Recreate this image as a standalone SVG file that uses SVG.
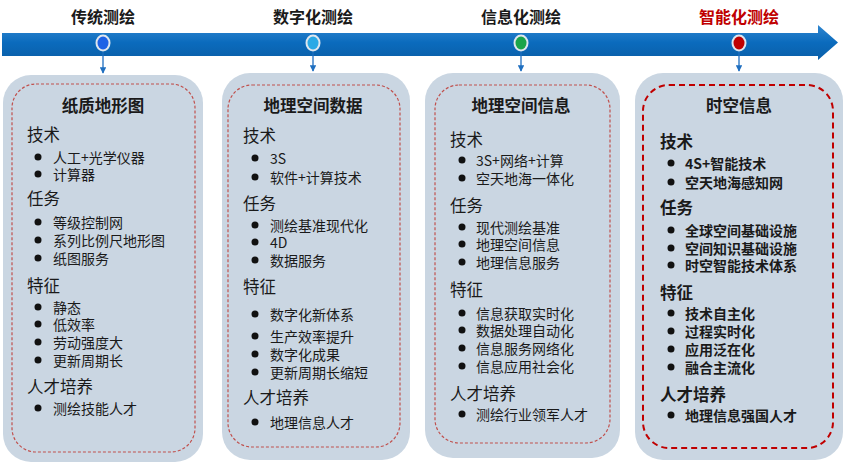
<svg xmlns="http://www.w3.org/2000/svg" width="847" height="467" viewBox="0 0 847 467">
<defs>
<style>
.ttl{font-family:"Noto Sans CJK SC","Noto Sans",sans-serif;font-size:16px;font-weight:700;fill:#1a1a1a;text-anchor:middle;dominant-baseline:central}
.card{fill:#cad6e2}
.dash{fill:none;stroke:#c0504d;stroke-width:1.2;stroke-dasharray:3 2}
.dash4{fill:none;stroke:#c00000;stroke-width:2;stroke-dasharray:6 4}
.hd{font-family:"Noto Sans CJK SC","Noto Sans",sans-serif;font-size:16.5px;font-weight:700;fill:#1a1a1a;text-anchor:middle;dominant-baseline:central}
.sec{font-family:"Noto Sans CJK SC","Noto Sans",sans-serif;font-size:16.5px;fill:#1a1a1a;dominant-baseline:central}
.it{font-family:"Noto Sans CJK SC","Noto Sans",sans-serif;font-size:14px;fill:#1a1a1a;dominant-baseline:central}
.b4 .sec,.b4 .it{font-weight:700}
.bul{fill:#111}
.conn{stroke:#1f6fc0;stroke-width:1.3;fill:none}
</style>
<marker id="ah" viewBox="0 0 10 10" refX="9" refY="5" markerWidth="5" markerHeight="5" orient="auto">
<path d="M0,0 L10,5 L0,10 z" fill="#1f6fc0"/>
</marker>
<linearGradient id="barg" x1="0" y1="0" x2="0" y2="1">
<stop offset="0" stop-color="#2f86d0"/>
<stop offset="0.5" stop-color="#0b6bbd"/>
<stop offset="1" stop-color="#0a5fa8"/>
</linearGradient>
</defs>
<rect width="847" height="467" fill="#ffffff"/>

<g id="timeline">
<path d="M2,33 L818,33 L818,25 L838,42.5 L818,60 L818,56 L2,56 Z" fill="url(#barg)"/>
</g>

<g id="stage-labels">
<text class="ttl" x="103" y="16">传统测绘</text>
<text class="ttl" x="313" y="16">数字化测绘</text>
<text class="ttl" x="521" y="16">信息化测绘</text>
<text class="ttl" x="739" y="16" style="fill:#c00000">智能化测绘</text>
</g>

<g id="markers">
<ellipse cx="103" cy="43" rx="7.5" ry="8.5" fill="#dfe6ee"/><ellipse cx="103" cy="43" rx="5.5" ry="6.5" fill="#1e62e6"/>
<ellipse cx="313" cy="43" rx="7.5" ry="8.5" fill="#dfe6ee"/><ellipse cx="313" cy="43" rx="5.5" ry="6.5" fill="#2aa9e6"/>
<ellipse cx="521" cy="43" rx="7.5" ry="8.5" fill="#dfe6ee"/><ellipse cx="521" cy="43" rx="5.5" ry="6.5" fill="#1aa44a"/>
<ellipse cx="739" cy="43" rx="7.5" ry="8.5" fill="#dfe6ee"/><ellipse cx="739" cy="43" rx="5.5" ry="6.5" fill="#c00000"/>
</g>

<g id="connectors">
<line class="conn" x1="103" y1="52" x2="103" y2="73" marker-end="url(#ah)"/>
<line class="conn" x1="313" y1="52" x2="313" y2="71" marker-end="url(#ah)"/>
<line class="conn" x1="521" y1="52" x2="521" y2="71" marker-end="url(#ah)"/>
<line class="conn" x1="739" y1="52" x2="739" y2="71" marker-end="url(#ah)"/>
</g>

<g id="card1">
<rect class="card" x="3" y="75" width="200" height="387" rx="28"/>
<rect class="dash" x="12" y="84" width="183" height="368" rx="24"/>
<text class="hd" x="103" y="105">纸质地形图</text>
<text class="sec" x="27" y="134">技术</text>
<circle class="bul" cx="38" cy="157" r="3.5"/><text class="it" x="53" y="157">人工+光学仪器</text>
<circle class="bul" cx="38" cy="174" r="3.5"/><text class="it" x="53" y="174">计算器</text>
<text class="sec" x="27" y="198">任务</text>
<circle class="bul" cx="38" cy="222" r="3.5"/><text class="it" x="53" y="222">等级控制网</text>
<circle class="bul" cx="38" cy="240" r="3.5"/><text class="it" x="53" y="240">系列比例尺地形图</text>
<circle class="bul" cx="38" cy="258" r="3.5"/><text class="it" x="53" y="258">纸图服务</text>
<text class="sec" x="27" y="285">特征</text>
<circle class="bul" cx="38" cy="307" r="3.5"/><text class="it" x="53" y="307">静态</text>
<circle class="bul" cx="38" cy="324" r="3.5"/><text class="it" x="53" y="324">低效率</text>
<circle class="bul" cx="38" cy="342" r="3.5"/><text class="it" x="53" y="342">劳动强度大</text>
<circle class="bul" cx="38" cy="360" r="3.5"/><text class="it" x="53" y="360">更新周期长</text>
<text class="sec" x="27" y="386">人才培养</text>
<circle class="bul" cx="38" cy="408" r="3.5"/><text class="it" x="53" y="408">测绘技能人才</text>
</g>

<g id="card2">
<rect class="card" x="222" y="73" width="188" height="387" rx="28"/>
<rect class="dash" x="228" y="85" width="172" height="362" rx="24"/>
<text class="hd" x="313" y="105">地理空间数据</text>
<text class="sec" x="243" y="135">技术</text>
<circle class="bul" cx="255" cy="158" r="3.5"/><text class="it" x="270" y="158">3S</text>
<circle class="bul" cx="255" cy="177" r="3.5"/><text class="it" x="270" y="177">软件+计算技术</text>
<text class="sec" x="243" y="203">任务</text>
<circle class="bul" cx="255" cy="225" r="3.5"/><text class="it" x="270" y="225">测绘基准现代化</text>
<circle class="bul" cx="255" cy="242" r="3.5"/><text class="it" x="270" y="242">4D</text>
<circle class="bul" cx="255" cy="260" r="3.5"/><text class="it" x="270" y="260">数据服务</text>
<text class="sec" x="243" y="286">特征</text>
<circle class="bul" cx="255" cy="314" r="3.5"/><text class="it" x="270" y="314">数字化新体系</text>
<circle class="bul" cx="255" cy="336" r="3.5"/><text class="it" x="270" y="336">生产效率提升</text>
<circle class="bul" cx="255" cy="354" r="3.5"/><text class="it" x="270" y="354">数字化成果</text>
<circle class="bul" cx="255" cy="372" r="3.5"/><text class="it" x="270" y="372">更新周期长缩短</text>
<text class="sec" x="243" y="397">人才培养</text>
<circle class="bul" cx="255" cy="422" r="3.5"/><text class="it" x="270" y="422">地理信息人才</text>
</g>

<g id="card3">
<rect class="card" x="425" y="73" width="195" height="385" rx="28"/>
<rect class="dash" x="435" y="85" width="175" height="358" rx="24"/>
<text class="hd" x="521" y="105">地理空间信息</text>
<text class="sec" x="450" y="139">技术</text>
<circle class="bul" cx="462" cy="160" r="3.5"/><text class="it" x="476" y="160">3S+网络+计算</text>
<circle class="bul" cx="462" cy="178" r="3.5"/><text class="it" x="476" y="178">空天地海一体化</text>
<text class="sec" x="450" y="205">任务</text>
<circle class="bul" cx="462" cy="227" r="3.5"/><text class="it" x="476" y="227">现代测绘基准</text>
<circle class="bul" cx="462" cy="244" r="3.5"/><text class="it" x="476" y="244">地理空间信息</text>
<circle class="bul" cx="462" cy="262" r="3.5"/><text class="it" x="476" y="262">地理信息服务</text>
<text class="sec" x="450" y="289">特征</text>
<circle class="bul" cx="462" cy="313" r="3.5"/><text class="it" x="476" y="313">信息获取实时化</text>
<circle class="bul" cx="462" cy="330" r="3.5"/><text class="it" x="476" y="330">数据处理自动化</text>
<circle class="bul" cx="462" cy="348" r="3.5"/><text class="it" x="476" y="348">信息服务网络化</text>
<circle class="bul" cx="462" cy="366" r="3.5"/><text class="it" x="476" y="366">信息应用社会化</text>
<text class="sec" x="450" y="393">人才培养</text>
<circle class="bul" cx="462" cy="414" r="3.5"/><text class="it" x="476" y="414">测绘行业领军人才</text>
</g>

<g id="card4" class="b4">
<rect class="card" x="635" y="73" width="208" height="387" rx="28"/>
<rect class="dash4" x="643" y="85" width="190" height="363" rx="26"/>
<text class="hd" x="739" y="105">时空信息</text>
<text class="sec" x="660" y="141">技术</text>
<circle class="bul" cx="671" cy="163" r="3.5"/><text class="it" x="685" y="163">4S+智能技术</text>
<circle class="bul" cx="671" cy="182" r="3.5"/><text class="it" x="685" y="182">空天地海感知网</text>
<text class="sec" x="660" y="207">任务</text>
<circle class="bul" cx="671" cy="230" r="3.5"/><text class="it" x="685" y="230">全球空间基础设施</text>
<circle class="bul" cx="671" cy="248" r="3.5"/><text class="it" x="685" y="248">空间知识基础设施</text>
<circle class="bul" cx="671" cy="265" r="3.5"/><text class="it" x="685" y="265">时空智能技术体系</text>
<text class="sec" x="660" y="292">特征</text>
<circle class="bul" cx="671" cy="313" r="3.5"/><text class="it" x="685" y="313">技术自主化</text>
<circle class="bul" cx="671" cy="331" r="3.5"/><text class="it" x="685" y="331">过程实时化</text>
<circle class="bul" cx="671" cy="349" r="3.5"/><text class="it" x="685" y="349">应用泛在化</text>
<circle class="bul" cx="671" cy="367" r="3.5"/><text class="it" x="685" y="367">融合主流化</text>
<text class="sec" x="660" y="394">人才培养</text>
<circle class="bul" cx="671" cy="415" r="3.5"/><text class="it" x="685" y="415">地理信息强国人才</text>
</g>
</svg>
